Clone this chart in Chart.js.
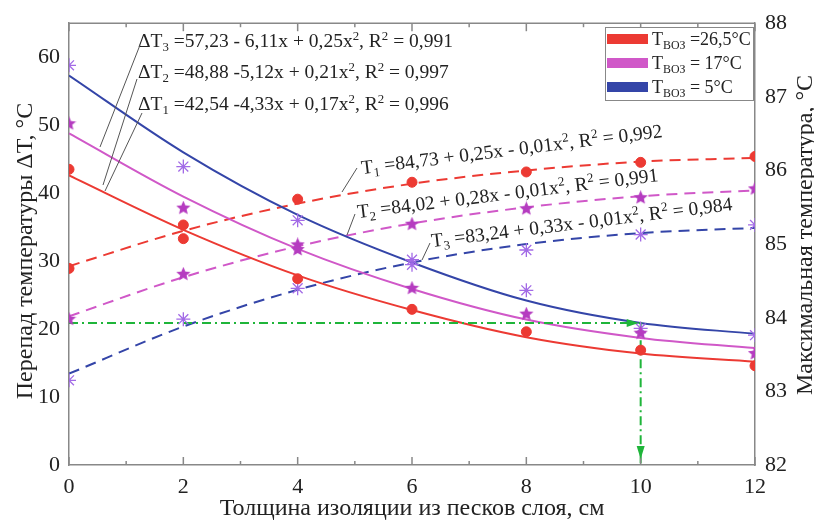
<!DOCTYPE html>
<html>
<head>
<meta charset="utf-8">
<script src="https://cdn.jsdelivr.net/npm/chart.js@4.4.0/dist/chart.umd.min.js"></script>
<style>
  html, body { margin: 0; padding: 0; background: #fff; }
  #wrap { width: 814px; height: 521px; }
</style>
</head>
<body>
<div id="wrap"><canvas id="chart"></canvas></div>
<script>
'use strict';

// insulation thickness, cm
const xs = [0, 2, 4, 6, 8, 10, 12];

// measured temperature drop ΔT (left axis)
const dT1pts = [43.5, 33.3, 27.4, 22.9, 19.6, 16.9, 14.6];
const dT2pts = [50.2, 37.8, 31.7, 26.0, 22.2, 19.4, 16.4];
const dT3pts = [58.8, 43.9, 36.0, 30.2, 25.7, 20.1, 19.1];

// fitted ΔT curves
const dT1fit = [42.6, 34.6, 27.9, 22.8, 18.8, 16.4, 15.2];
const dT2fit = [48.8, 39.5, 31.8, 25.9, 21.4, 18.7, 17.2];
const dT3fit = [57.3, 46.0, 36.8, 29.8, 24.2, 20.9, 19.3];

// measured max temperature (right axis)
const T1pts = [84.67, 85.26, 85.61, 85.84, 85.98, 86.11, 86.19];
const T2pts = [83.98, 84.59, 84.99, 85.27, 85.48, 85.63, 85.75];
const T3pts = [83.15, 83.98, 84.40, 84.72, 84.92, 85.13, 85.26];

// fitted T curves
const T1fit = [84.70, 85.18, 85.55, 85.82, 86.00, 86.12, 86.17];
const T2fit = [84.02, 84.55, 84.97, 85.28, 85.50, 85.65, 85.73];
const T3fit = [83.24, 83.88, 84.38, 84.75, 85.00, 85.15, 85.22];

// green guide line: ΔT = 20.9 reached at 10 cm
const guideX = [0, 10, 10];
const guideY = [20.9, 20.9, 0];

const legendLabels = ['T_{ВОЗ} =26,5°C', 'T_{ВОЗ} = 17°C', 'T_{ВОЗ} = 5°C'];

const RED = '#ec3a33';
const PINK = '#d058c8';
const BLUE = '#3445a8';
const STAR = '#b53cc0';
const AST = '#a26ae6';
const GREEN = '#1fb53a';
const FONT = '"Liberation Serif", "Times New Roman", serif';

function xy(xv, yv) {
  return xv.map((x, i) => ({ x: x, y: yv[i] }));
}

// filled five point star used as point style
function makeStar(size, color) {
  const c = document.createElement('canvas');
  c.width = size; c.height = size;
  const g = c.getContext('2d');
  const R = size / 2, r = R * 0.45;
  g.beginPath();
  for (let i = 0; i < 10; i++) {
    const a = -Math.PI / 2 + i * Math.PI / 5;
    const rr = i % 2 ? r : R;
    g.lineTo(R + rr * Math.cos(a), R + rr * Math.sin(a));
  }
  g.closePath();
  g.fillStyle = color;
  g.fill();
  return c;
}
const starImg = makeStar(15, STAR);

// text with _x / ^x or _{..} / ^{..} sub- and superscripts
function richText(ctx, str, x, y, size) {
  const parts = [];
  const re = /([_^])(\{[^}]*\}|.)/g;
  let last = 0, m;
  while ((m = re.exec(str)) !== null) {
    if (m.index > last) parts.push({ t: str.slice(last, m.index) });
    let t = m[2];
    if (t[0] === '{') t = t.slice(1, -1);
    parts.push({ t: t, sub: m[1] === '_', sup: m[1] === '^' });
    last = re.lastIndex;
  }
  if (last < str.length) parts.push({ t: str.slice(last) });
  let cx = x;
  parts.forEach(p => {
    let s = size, dy = 0;
    if (p.sub) { s = size * 0.66; dy = size * 0.22; }
    if (p.sup) { s = size * 0.66; dy = -size * 0.38; }
    ctx.font = s + 'px ' + FONT;
    ctx.fillText(p.t, cx, y + dy);
    cx += ctx.measureText(p.t).width;
  });
}

function line(ctx, x1, y1, x2, y2) {
  ctx.beginPath();
  ctx.moveTo(x1, y1);
  ctx.lineTo(x2, y2);
  ctx.stroke();
}

function vertTitle(ctx, text, x, y) {
  ctx.save();
  ctx.translate(x, y);
  ctx.rotate(-Math.PI / 2);
  ctx.textAlign = 'center';
  ctx.textBaseline = 'alphabetic';
  ctx.fillStyle = '#222';
  ctx.font = '24px ' + FONT;
  ctx.fillText(text, 0, 0);
  ctx.restore();
}

const extras = {
  id: 'extras',
  afterDraw(chart) {
    const ctx = chart.ctx;
    const a = chart.chartArea;
    const sx = chart.scales.x;
    ctx.save();

    // top frame line and inward ticks
    ctx.strokeStyle = '#888';
    ctx.lineWidth = 1.5;
    line(ctx, a.left, a.top, a.right, a.top);
    sx.ticks.forEach(t => {
      const p = sx.getPixelForValue(t.value);
      const len = t.value % 2 === 0 ? 8 : 4;
      line(ctx, p, a.bottom, p, a.bottom - len);
      line(ctx, p, a.top, p, a.top + len);
    });

    // arrow heads on the green guide
    const gy = chart.scales.y.getPixelForValue(guideY[0]);
    const gx = sx.getPixelForValue(guideX[1]);
    ctx.fillStyle = GREEN;
    ctx.beginPath();
    ctx.moveTo(gx - 2, gy);
    ctx.lineTo(gx - 14, gy - 4);
    ctx.lineTo(gx - 14, gy + 4);
    ctx.closePath();
    ctx.fill();
    ctx.beginPath();
    ctx.moveTo(gx, a.bottom - 6);
    ctx.lineTo(gx - 4, a.bottom - 19);
    ctx.lineTo(gx + 4, a.bottom - 19);
    ctx.closePath();
    ctx.fill();

    // regression equations for ΔT
    ctx.fillStyle = '#222';
    ctx.textBaseline = 'alphabetic';
    ctx.textAlign = 'left';
    richText(ctx, 'ΔT_3 =57,23 - 6,11x + 0,25x^2, R^2 = 0,991', 138, 47, 19.5);
    richText(ctx, 'ΔT_2 =48,88 -5,12x + 0,21x^2, R^2 = 0,997', 138, 78, 19.5);
    richText(ctx, 'ΔT_1 =42,54 -4,33x + 0,17x^2, R^2 = 0,996', 138, 110, 19.5);
    ctx.strokeStyle = '#555';
    ctx.lineWidth = 1;
    line(ctx, 140, 45, 100, 147);
    line(ctx, 137, 79, 103, 185);
    line(ctx, 142, 113, 105, 191);

    // regression equations for T (slightly tilted)
    const tilt = -7 * Math.PI / 180;
    [['T_1 =84,73 + 0,25x - 0,01x^2, R^2 = 0,992', 362, 174],
     ['T_2 =84,02 + 0,28x - 0,01x^2, R^2 = 0,991', 358, 218],
     ['T_3 =83,24 + 0,33x - 0,01x^2, R^2 = 0,984', 432, 247]].forEach(e => {
      ctx.save();
      ctx.translate(e[1], e[2]);
      ctx.rotate(tilt);
      richText(ctx, e[0], 0, 0, 19.5);
      ctx.restore();
    });
    line(ctx, 357, 168, 342, 192);
    line(ctx, 355, 214, 347, 235);
    line(ctx, 430, 243, 422, 260);

    // legend
    ctx.fillStyle = '#fff';
    ctx.fillRect(605, 27, 148, 73);
    ctx.strokeStyle = '#888';
    ctx.lineWidth = 1;
    ctx.strokeRect(605.5, 27.5, 148, 73);
    [RED, PINK, BLUE].forEach((c, i) => {
      const cy = 39 + i * 24;
      ctx.fillStyle = c;
      ctx.fillRect(607, cy - 5, 41, 10);
      ctx.fillStyle = '#222';
      richText(ctx, legendLabels[i], 652, cy + 6, 18);
    });

    // axis titles, both reading bottom to top
    vertTitle(ctx, 'Перепад температуры ΔT, °C', 32, 251);
    vertTitle(ctx, 'Максимальная температура, °C', 812, 235);

    ctx.restore();
  }
};

const tickFont = { family: FONT, size: 22 };

new Chart(document.getElementById('chart'), {
  type: 'line',
  data: {
    datasets: [
      { label: 'ΔT1', data: xy(xs, dT1pts), yAxisID: 'y', showLine: false,
        pointStyle: 'circle', pointRadius: 5, backgroundColor: RED, borderColor: RED },
      { label: 'ΔT2', data: xy(xs, dT2pts), yAxisID: 'y', showLine: false,
        pointStyle: starImg },
      { label: 'ΔT3', data: xy(xs, dT3pts), yAxisID: 'y', showLine: false,
        pointStyle: 'star', pointRadius: 7, borderColor: AST, pointBorderWidth: 1.3 },
      { label: 'T1', data: xy(xs, T1pts), yAxisID: 'y2', showLine: false,
        pointStyle: 'circle', pointRadius: 5, backgroundColor: RED, borderColor: RED },
      { label: 'T2', data: xy(xs, T2pts), yAxisID: 'y2', showLine: false,
        pointStyle: starImg },
      { label: 'T3', data: xy(xs, T3pts), yAxisID: 'y2', showLine: false,
        pointStyle: 'star', pointRadius: 7, borderColor: AST, pointBorderWidth: 1.3 },
      { label: 'guide', data: xy(guideX, guideY), yAxisID: 'y', pointRadius: 0,
        borderColor: GREEN, borderWidth: 2, borderDash: [9, 4, 2, 4], tension: 0 },
      { label: 'ΔT1 fit', data: xy(xs, dT1fit), yAxisID: 'y', pointRadius: 0,
        borderColor: RED, borderWidth: 2, cubicInterpolationMode: 'monotone' },
      { label: 'ΔT2 fit', data: xy(xs, dT2fit), yAxisID: 'y', pointRadius: 0,
        borderColor: PINK, borderWidth: 2, cubicInterpolationMode: 'monotone' },
      { label: 'ΔT3 fit', data: xy(xs, dT3fit), yAxisID: 'y', pointRadius: 0,
        borderColor: BLUE, borderWidth: 2, cubicInterpolationMode: 'monotone' },
      { label: 'T1 fit', data: xy(xs, T1fit), yAxisID: 'y2', pointRadius: 0,
        borderColor: RED, borderWidth: 2, borderDash: [11, 7], cubicInterpolationMode: 'monotone' },
      { label: 'T2 fit', data: xy(xs, T2fit), yAxisID: 'y2', pointRadius: 0,
        borderColor: PINK, borderWidth: 2, borderDash: [11, 7], cubicInterpolationMode: 'monotone' },
      { label: 'T3 fit', data: xy(xs, T3fit), yAxisID: 'y2', pointRadius: 0,
        borderColor: BLUE, borderWidth: 2, borderDash: [11, 7], cubicInterpolationMode: 'monotone' }
    ]
  },
  options: {
    responsive: true,
    maintainAspectRatio: false,
    animation: false,
    layout: { padding: { top: 20, left: 0, right: 0, bottom: 0 } },
    plugins: {
      legend: { display: false },
      tooltip: { enabled: false }
    },
    scales: {
      x: {
        type: 'linear',
        min: 0,
        max: 12,
        afterFit: s => { s.height = 56; },
        ticks: {
          stepSize: 1,
          color: '#222',
          font: tickFont,
          padding: 9,
          maxRotation: 0,
          callback: v => (v % 2 === 0 ? v : '')
        },
        grid: { display: false, drawTicks: false },
        border: { color: '#888', width: 1.5 },
        title: {
          display: true,
          text: 'Толщина изоляции из песков слоя, см',
          color: '#222',
          font: { family: FONT, size: 24 },
          padding: { top: 0, bottom: -2 }
        }
      },
      y: {
        position: 'left',
        min: 0,
        max: 65,
        afterFit: s => { s.width = 69; },
        ticks: {
          stepSize: 10,
          color: '#222',
          font: tickFont,
          padding: 9,
          callback: v => (v % 10 === 0 ? v : '')
        },
        grid: { display: false, drawTicks: false },
        border: { color: '#888', width: 1.5 }
      },
      y2: {
        position: 'right',
        min: 82,
        max: 88,
        afterFit: s => { s.width = 59; },
        ticks: {
          stepSize: 1,
          color: '#222',
          font: tickFont,
          padding: 10
        },
        grid: { display: false, drawTicks: false },
        border: { color: '#888', width: 1.5 }
      }
    }
  },
  plugins: [extras]
});
</script>
</body>
</html>
